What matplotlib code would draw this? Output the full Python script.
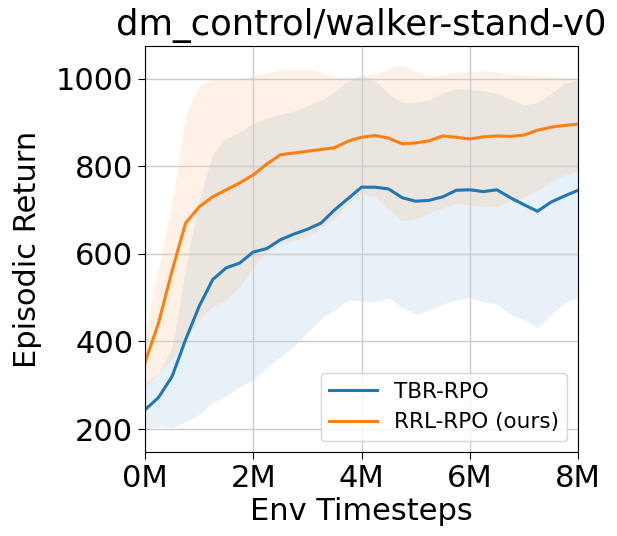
import matplotlib
matplotlib.use("Agg")
import matplotlib.pyplot as plt
from matplotlib.ticker import FuncFormatter

steps_m = [0, 0.25, 0.5, 0.75, 1.0, 1.25, 1.5, 1.75, 2.0, 2.25, 2.5, 2.75, 3.0, 3.25, 3.5, 3.75,
           4.0, 4.25, 4.5, 4.75, 5.0, 5.25, 5.5, 5.75, 6.0, 6.25, 6.5, 6.75, 7.0, 7.25, 7.5, 7.75, 8.0]

tbr_mean = [244, 272, 320, 404, 480, 541, 568, 579, 604, 612, 632, 645, 656, 670, 700, 726,
            752, 752, 748, 728, 720, 722, 730, 745, 746, 742, 746, 728, 712, 697, 718, 732, 745]
tbr_upper = [305, 329, 385, 570, 723, 829, 864, 878, 898, 910, 918, 926, 938, 950, 970, 995,
             1008, 995, 965, 945, 945, 952, 968, 977, 975, 972, 966, 952, 940, 945, 965, 990, 996]
tbr_lower = [199, 206, 203, 217, 233, 262, 275, 297, 313, 340, 365, 390, 420, 452, 472, 495,
             492, 490, 500, 478, 462, 472, 485, 495, 500, 490, 485, 462, 450, 432, 460, 488, 502]

rrl_mean = [352, 442, 561, 670, 707, 730, 746, 762, 780, 805, 826, 830, 834, 838, 842, 857,
            866, 870, 864, 851, 853, 858, 869, 866, 862, 867, 869, 868, 871, 882, 889, 893, 896]
rrl_upper = [420, 570, 715, 915, 985, 997, 1000, 1000, 1005, 1012, 1020, 1022, 1022, 1015, 1003, 1005,
             1002, 1012, 1022, 1030, 1018, 1005, 1008, 1015, 1015, 1017, 1015, 1010, 1008, 1005, 1005, 1003, 1000]
rrl_lower = [297, 329, 360, 404, 450, 480, 495, 525, 570, 605, 622, 630, 640, 660, 680, 715,
             738, 730, 700, 675, 680, 692, 705, 715, 712, 708, 708, 720, 730, 745, 765, 780, 788]

labels = ["TBR-RPO", "RRL-RPO (ours)"]
colors = ["tab:blue", "tab:orange"]

fig = plt.figure(figsize=(6.17, 5.36), dpi=100)
ax = fig.add_axes([0.235, 0.157, 0.702, 0.757])

for mean, lo, hi, lab, c in [(tbr_mean, tbr_lower, tbr_upper, labels[0], colors[0]),
                             (rrl_mean, rrl_lower, rrl_upper, labels[1], colors[1])]:
    ax.plot(steps_m, mean, color=c, lw=2.2, label=lab)
    ax.fill_between(steps_m, lo, hi, color=c, alpha=0.1, lw=0)

ax.set_xlim(0, 8)
ax.set_ylim(148, 1074)
ax.set_xticks([0, 2, 4, 6, 8])
ax.set_yticks([200, 400, 600, 800, 1000])
ax.xaxis.set_major_formatter(FuncFormatter(lambda v, p: f"{int(v)}M"))
ax.tick_params(labelsize=22, length=5)
ax.grid(True, color="#cccccc", lw=1)
ax.set_xlabel("Env Timesteps", fontsize=22, labelpad=3)
ax.set_ylabel("Episodic Return", fontsize=22, labelpad=10)
ax.set_title("dm_control/walker-stand-v0", fontsize=25.5, pad=8)
ax.legend(loc="lower right", fontsize=15.5, handlelength=2.2)

fig.savefig("out.png", dpi=100)
